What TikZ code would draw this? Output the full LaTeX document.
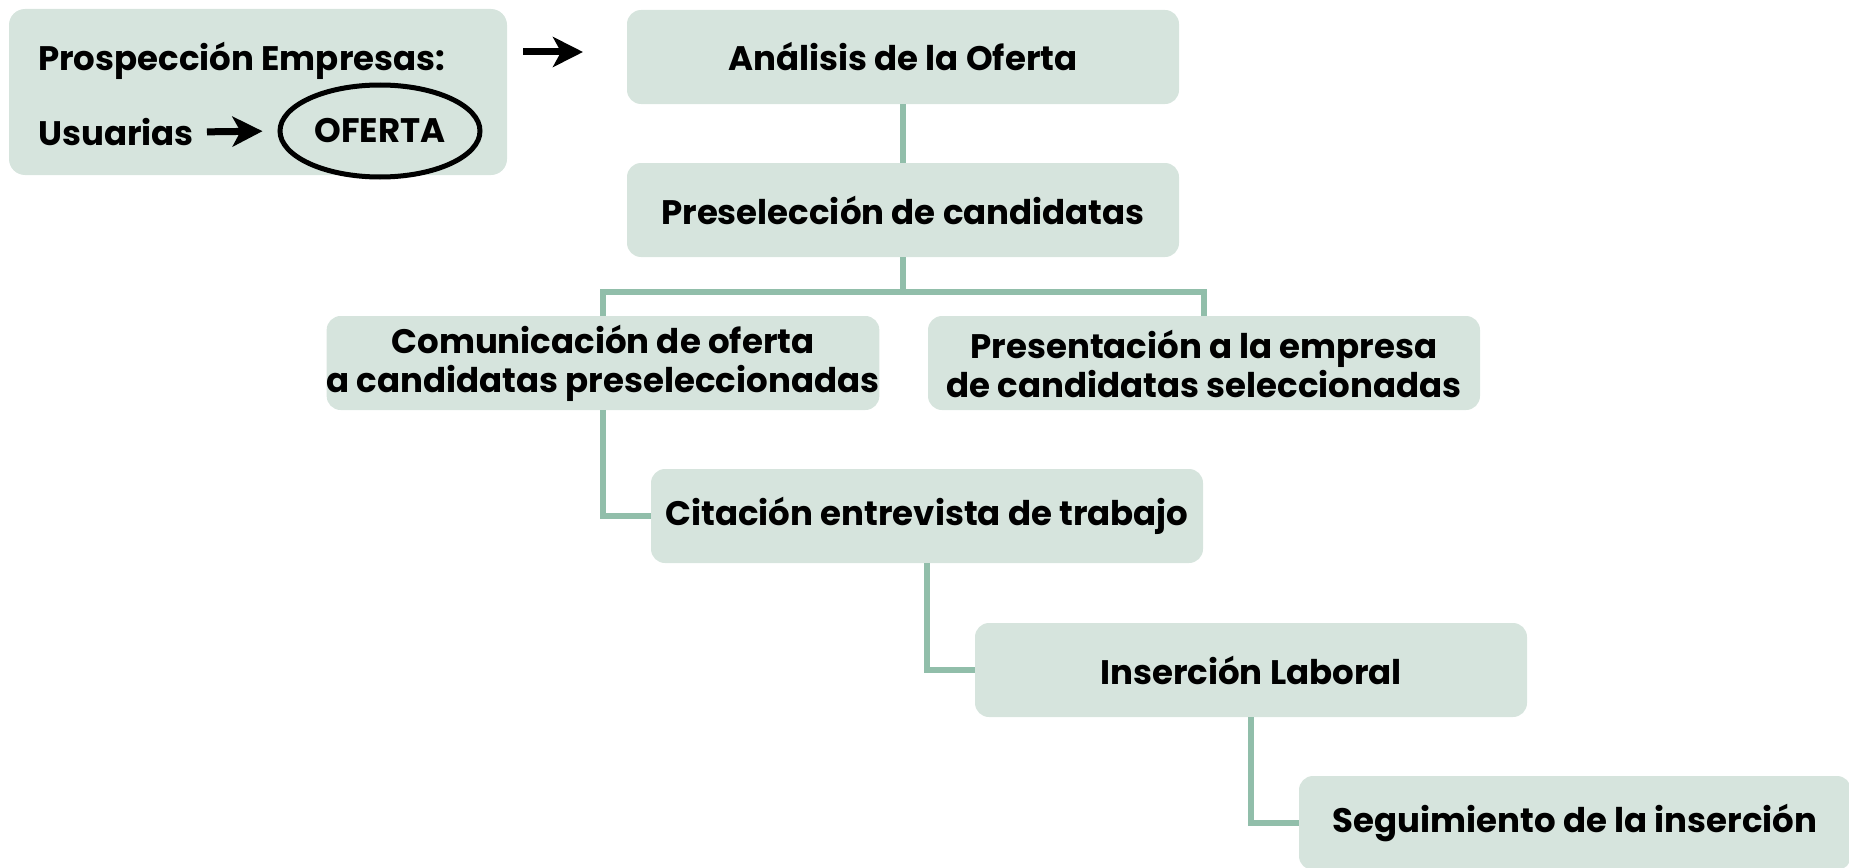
\documentclass[tikz,border=0pt]{standalone}
\usepackage{fontspec}
\setmainfont{Poppins}
\usetikzlibrary{arrows.meta,shapes.geometric,calc}
\definecolor{boxfill}{RGB}{214,228,221}
\definecolor{linkcol}{RGB}{145,190,170}
\begin{document}
\begin{tikzpicture}[x=1pt,y=-1pt,
  stepbox/.style={draw=none,fill=boxfill,rounded corners=14pt,minimum width=552pt,minimum height=94pt,inner sep=0pt,align=center,font=\fontsize{34}{39}\selectfont\bfseries},
  link/.style={draw=linkcol,line width=6pt},
  arr/.style={line width=7pt,-{Stealth[length=30pt,width=30pt,inset=8pt]}},
  txt/.style={font=\fontsize{34}{39}\selectfont\bfseries,inner sep=0pt}]
\useasboundingbox (0,0) rectangle (1849,867);
% prospection box
\node[fill=boxfill,rounded corners=16pt,minimum width=498pt,minimum height=166pt,inner sep=0pt] (pros) at (258,92) {};
\node[txt,anchor=west] (prost) at (38,61) {Prospección Empresas:};
\node[txt,anchor=west] (usu) at (38,132) {Usuarias};
\node[txt,draw,ellipse,line width=5pt,minimum width=200pt,minimum height=92pt] (ofe) at (380,131) {OFERTA};
\draw[arr,shorten <=13pt,shorten >=15pt] (usu.east) -- (ofe.west);
\coordinate (a1) at (523,52);
\coordinate (a2) at (583,52);
\draw[arr] (a1) -- (a2);
% steps
\node[stepbox] (ana) at (903,57) {Análisis de la Oferta};
\node[stepbox] (pre) at (903,210) {Preselección de candidatas};
\node[stepbox] (com) at (603,363) {\rule{0pt}{30pt}Comunicación de oferta\\a candidatas preseleccionadas};
\node[stepbox] (prs) at (1204,363) {\rule{0pt}{30pt}Presentación a la empresa\\de candidatas seleccionadas};
\node[stepbox] (cit) at (927,516) {Citación entrevista de trabajo};
\node[stepbox] (ins) at (1251,670) {Inserción Laboral};
\node[stepbox] (seg) at (1575,823) {Seguimiento de la inserción};
% connectors
\coordinate (br) at ($(pre.south)+(0,35)$);
\draw[link] (ana.south) -- (pre.north);
\draw[link] (pre.south) -- (br);
\draw[link] (com.north) |- (br) -| (prs.north);
\draw[link] (com.south) |- (cit.west);
\draw[link] (cit.south) |- (ins.west);
\draw[link] (ins.south) |- (seg.west);
\end{tikzpicture}
\end{document}
